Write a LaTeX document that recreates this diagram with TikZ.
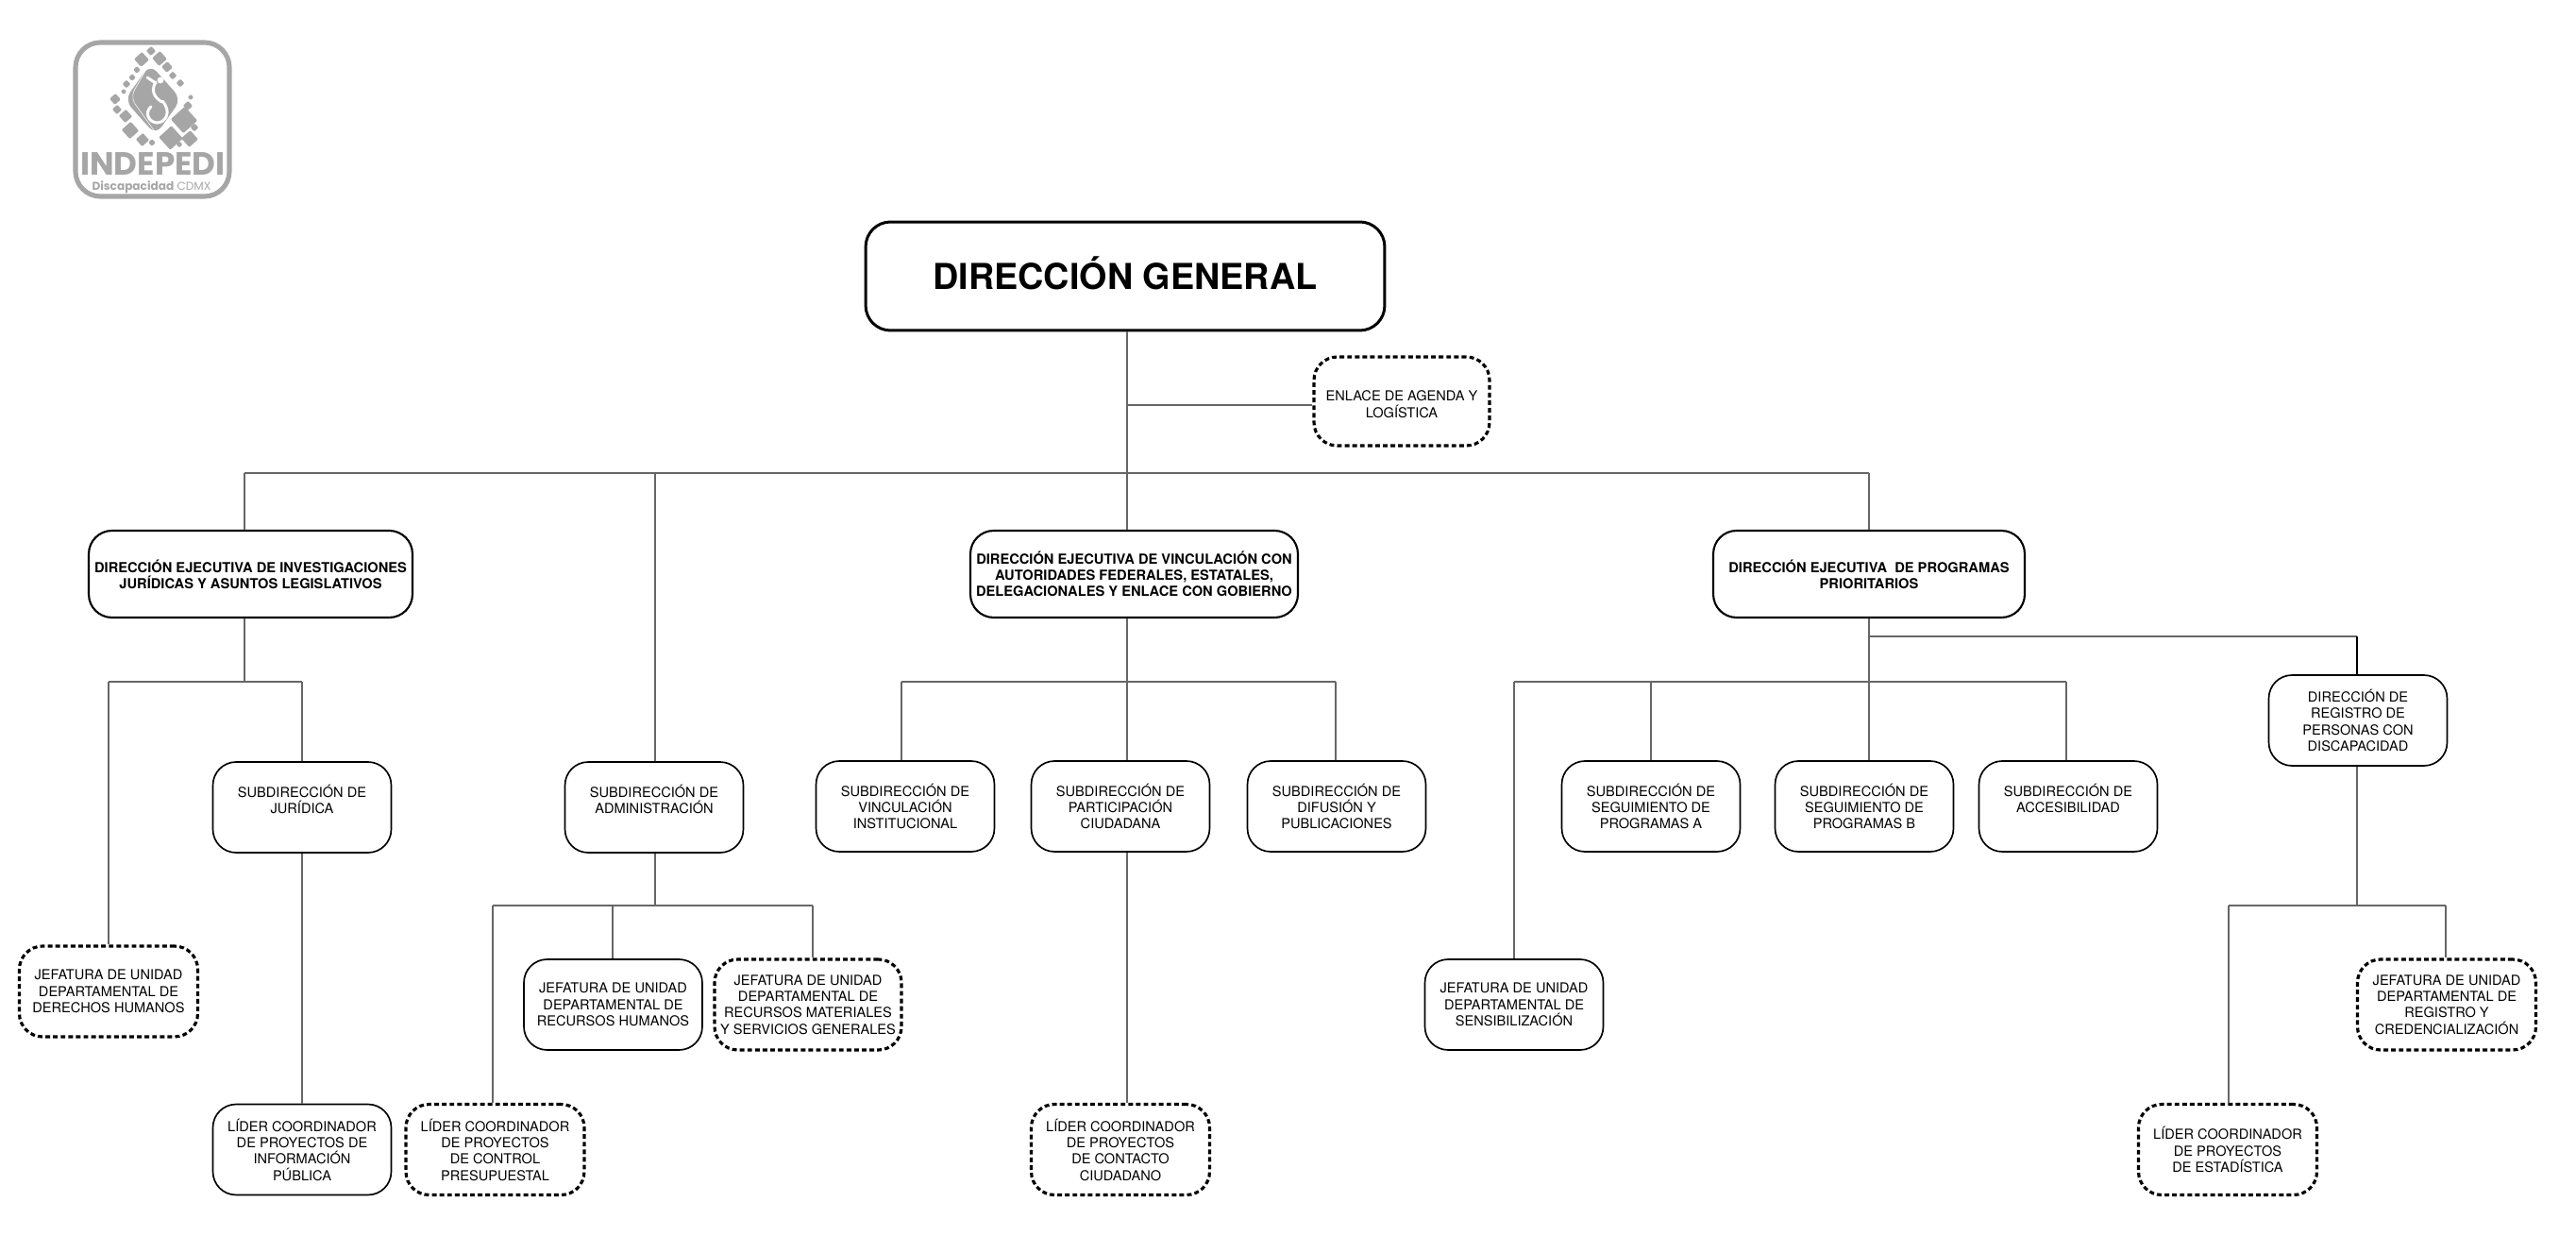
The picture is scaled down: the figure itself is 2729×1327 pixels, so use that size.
\documentclass[tikz,border=0pt]{standalone}
\usepackage{fontspec}
\setmainfont{TeX Gyre Heros}
\newfontfamily\logofont{Poppins}
\usetikzlibrary{positioning}
\definecolor{logogrey}{HTML}{A6A6A6}
\definecolor{linegrey}{HTML}{666666}

\begin{document}
\begin{tikzpicture}[
    x=0.02cm, y=-0.02cm,
    every node/.style={align=center, inner sep=0pt, font=\fontsize{8.3}{9.85}\selectfont},
    roundbox/.style={draw, line width=0.95pt, rounded corners=14pt, minimum width=3.78cm, minimum height=1.92cm},
    dotbox/.style={roundbox, line width=1.8pt, dash pattern=on 2.8pt off 1.8pt},
    headbox/.style={roundbox, line width=1.2pt, font=\fontsize{8.35}{9.85}\selectfont\bfseries, minimum height=1.84cm},
    conn/.style={draw=linegrey, line width=1.1pt},
    logosquare/.style={fill=logogrey, rounded corners=0.6pt}
]
\useasboundingbox (0,0) rectangle (2729,1327);

% Logo
\draw[logogrey, line width=2.9pt, rounded corners=15pt] (80,45) rectangle (243,208);
\foreach \cx/\cy/\s in {160/54/3.6, 150/63/5.6, 169/62/5.6, 177/71/4.2, 183/80/3.1, 191/88/3.1,
    145/74/2.7, 140/82/2.7, 134/89/3.1, 131/97/2.2, 122/105/4.2, 124/116/3.6, 133/123/5,
    202/103/2.2, 199/112/3.6, 195/127/10, 181/146/9, 138/138/6.5, 151/148/5, 161/151/2.7,
    190/153/2.4, 201/147/6.3, 206/135/3.1}
    \fill[logosquare, shift={(\cx,\cy)}, rotate=42] (-\s,-\s) rectangle (\s,\s);
\fill[logogrey, rounded corners=6pt] (159,68) -- (192,105) -- (165,143) -- (132,106) -- cycle;
\draw[white, line width=0.3pt, rounded corners=5pt] (157,70) -- (138,103) -- (163,138);
\fill[white] (170,85) circle (3.4);
\draw[white, line width=1.7pt, line cap=round] (156,82) -- (165,88);
\draw[white, line width=1.7pt, line cap=round] (165,87) .. controls (158,98) and (167,106) .. (172,108);
\draw[white, line width=1.7pt, line cap=round] (172,107) .. controls (182,118) and (176,130) .. (166,130) .. controls (157,129) and (153,119) .. (160,113);
\node[text=logogrey, font=\logofont\fontsize{19.4}{19}\selectfont\bfseries] (logoname) at (162,174) {INDEPEDI};
\node[text=logogrey, font=\logofont\fontsize{6.9}{7}\selectfont] (logosub) at (160.5,198) {\textbf{Discapacidad} CDMX};

% Main boxes
\node[draw, line width=1.7pt, rounded corners=15pt, minimum width=11cm, minimum height=2.3cm, font=\fontsize{21.5}{24}\selectfont\bfseries] (dg) at (1192,292.5) {\raisebox{3.4pt}{DIRECCIÓN GENERAL}};
\node[dotbox, minimum width=3.72cm, minimum height=1.88cm] (enlace) at (1485,425) {\rule{0pt}{10pt}ENLACE DE AGENDA Y\\LOGÍSTICA};
\node[headbox, minimum width=6.86cm] (dei) at (265.5,608) {DIRECCIÓN EJECUTIVA DE INVESTIGACIONES\\JURÍDICAS Y ASUNTOS LEGISLATIVOS};
\node[headbox, minimum width=6.94cm] (dev) at (1201.5,608) {DIRECCIÓN EJECUTIVA DE VINCULACIÓN CON\\AUTORIDADES FEDERALES, ESTATALES,\\DELEGACIONALES Y ENLACE CON GOBIERNO};
\node[headbox, minimum width=6.6cm] (dep) at (1980,608) {DIRECCIÓN EJECUTIVA\ \ DE PROGRAMAS\\PRIORITARIOS};

% Subdirecciones
\node[roundbox] (jur) at (320,855) {SUBDIRECCIÓN DE\\JURÍDICA\\~};
\node[roundbox] (admin) at (693,855) {SUBDIRECCIÓN DE\\ADMINISTRACIÓN\\~};
\node[roundbox] (vinc) at (959,854) {SUBDIRECCIÓN DE\\VINCULACIÓN\\INSTITUCIONAL};
\node[roundbox] (partic) at (1187,854) {SUBDIRECCIÓN DE\\PARTICIPACIÓN\\CIUDADANA};
\node[roundbox] (difus) at (1416,854) {SUBDIRECCIÓN DE\\DIFUSIÓN Y\\PUBLICACIONES};
\node[roundbox] (segA) at (1749,854) {SUBDIRECCIÓN DE\\SEGUIMIENTO DE\\PROGRAMAS A};
\node[roundbox] (segB) at (1975,854) {SUBDIRECCIÓN DE\\SEGUIMIENTO DE\\PROGRAMAS B};
\node[roundbox] (acces) at (2191,854) {SUBDIRECCIÓN DE\\ACCESIBILIDAD\\~};
\node[roundbox] (regis) at (2498,763) {DIRECCIÓN DE\\REGISTRO DE\\PERSONAS CON\\DISCAPACIDAD};

% Jefaturas
\node[dotbox] (judDH) at (115,1050) {JEFATURA DE UNIDAD\\DEPARTAMENTAL DE\\DERECHOS HUMANOS};
\node[roundbox] (judRH) at (649.5,1064) {JEFATURA DE UNIDAD\\DEPARTAMENTAL DE\\RECURSOS HUMANOS};
\node[dotbox, minimum width=3.96cm] (judRM) at (856,1064) {JEFATURA DE UNIDAD\\DEPARTAMENTAL DE\\RECURSOS MATERIALES\\Y SERVICIOS GENERALES};
\node[roundbox] (judSen) at (1604,1064) {JEFATURA DE UNIDAD\\DEPARTAMENTAL DE\\SENSIBILIZACIÓN};
\node[dotbox] (judReg) at (2592,1064) {JEFATURA DE UNIDAD\\DEPARTAMENTAL DE\\REGISTRO Y\\CREDENCIALIZACIÓN};

% Lideres
\node[roundbox] (lidInfo) at (320,1217.5) {LÍDER COORDINADOR\\DE PROYECTOS DE\\INFORMACIÓN\\PÚBLICA};
\node[dotbox] (lidCtrl) at (524.5,1217.5) {LÍDER COORDINADOR\\DE PROYECTOS\\DE CONTROL\\PRESUPUESTAL};
\node[dotbox] (lidCont) at (1187,1217.5) {LÍDER COORDINADOR\\DE PROYECTOS\\DE CONTACTO\\CIUDADANO};
\node[dotbox] (lidEst) at (2360,1217.5) {LÍDER COORDINADOR\\DE PROYECTOS\\DE ESTADÍSTICA};

% Junctions
\coordinate (mA) at (259,501);
\coordinate (mB) at (694,501);
\coordinate (mC) at (1194,501);
\coordinate (mD) at (1980,501);
\coordinate (eA) at (1194,429);
\coordinate (iA) at (115,722);
\coordinate (iB) at (259,722);
\coordinate (iC) at (320,722);
\coordinate (aA) at (522,959);
\coordinate (aB) at (649,959);
\coordinate (aC) at (694,959);
\coordinate (aD) at (861,959);
\coordinate (vA) at (955,722);
\coordinate (vB) at (1194,722);
\coordinate (vC) at (1415,722);
\coordinate (pA) at (1604,722);
\coordinate (pB) at (1749,722);
\coordinate (pC) at (1980,722);
\coordinate (pD) at (2189,722);
\coordinate (rA) at (1980,674);
\coordinate (rB) at (2497,674);
\coordinate (gA) at (2361,959);
\coordinate (gB) at (2497,959);
\coordinate (gC) at (2591,959);

% Connectors
\draw[conn] (mA) -- (mD);
\draw[conn] (dg.south -| mC) -- (mC |- dev.north);
\draw[conn] (eA) -- (eA -| enlace.west);
\draw[conn] (mA) -- (mA |- dei.north);
\draw[conn] (mB) -- (mB |- admin.north);
\draw[conn] (mD) -- (mD |- dep.north);

\draw[conn] (dei.south -| iB) -- (iB);
\draw[conn] (iA) -- (iC);
\draw[conn] (iA) -- (iA |- judDH.north);
\draw[conn] (iC) -- (iC |- jur.north);
\draw[conn] (jur.south) -- (lidInfo.north);

\draw[conn] (admin.south -| aC) -- (aC);
\draw[conn] (aA) -- (aD);
\draw[conn] (aA) -- (aA |- lidCtrl.north);
\draw[conn] (aB) -- (aB |- judRH.north);
\draw[conn] (aD) -- (aD |- judRM.north);

\draw[conn] (dev.south -| vB) -- (vB |- partic.north);
\draw[conn] (vA) -- (vC);
\draw[conn] (vA) -- (vA |- vinc.north);
\draw[conn] (vC) -- (vC |- difus.north);
\draw[conn] (partic.south -| vB) -- (vB |- lidCont.north);

\draw[conn] (dep.south -| pC) -- (pC |- segB.north);
\draw[conn] (rA) -- (rB);
\draw[conn, draw=black] (rB) -- (rB |- regis.north);
\draw[conn] (pA) -- (pD);
\draw[conn] (pA) -- (pA |- judSen.north);
\draw[conn] (pB) -- (pB |- segA.north);
\draw[conn] (pD) -- (pD |- acces.north);

\draw[conn] (regis.south -| gB) -- (gB);
\draw[conn] (gA) -- (gC);
\draw[conn] (gA) -- (gA |- lidEst.north);
\draw[conn] (gC) -- (gC |- judReg.north);

\end{tikzpicture}
\end{document}
